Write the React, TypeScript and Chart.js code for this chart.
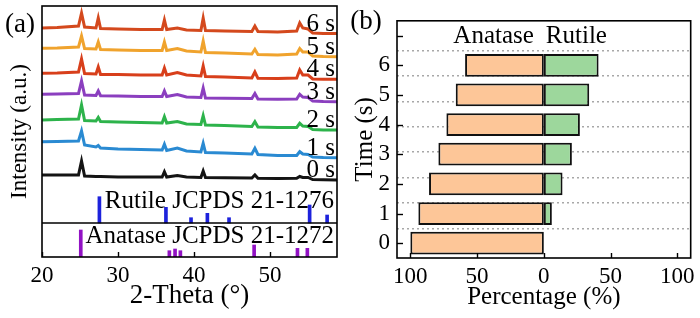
import React, { useEffect, useRef } from 'react';
import { Chart, registerables } from 'chart.js';
Chart.register(...registerables);

const SERIF = '"Liberation Serif", "Times New Roman", Times, serif';

// ---------------- Panel (a): XRD patterns ----------------
const twoTheta = [20, 22, 24.8, 25.2, 25.6, 27.1, 27.4, 27.7, 30, 33, 35.8, 36.1, 36.4, 37.8, 39, 40.9, 41.2, 41.5, 44, 47.6, 48.0, 48.4, 51, 53.5, 53.9, 54.3, 55.0, 55.6, 57, 58.8];
const xrdLabels = ['0 s', '1 s', '2 s', '3 s', '4 s', '5 s', '6 s'];
const xrd0s = [82, 82, 82, 96, 81, 80.5, 80.5, 80.5, 80, 80, 80, 85.3, 80, 81.5, 80, 79.5, 86, 79.5, 79.2, 79, 82, 78.7, 78.5, 78.7, 80.5, 79.5, 79.5, 77.5, 77.2, 77];
const xrd1s = [115.3, 115.5, 116, 126, 112, 110, 111.5, 109, 108, 107.5, 107, 112.7, 106.5, 109, 106, 105, 113.7, 104.5, 104, 103, 108.7, 102.5, 101.5, 101.5, 105.3, 103, 102.5, 100, 99.5, 99.3];
const xrd2s = [137, 137.5, 138, 152, 136.5, 136, 139.5, 135.5, 135, 134.5, 134, 140.3, 134, 135.5, 133, 132.5, 141.3, 132, 131.5, 130.5, 135.3, 130, 129.5, 129.5, 133.7, 131, 130.5, 127.5, 127, 127];
const xrd3s = [162.7, 163, 163.5, 176, 162, 161.5, 166, 161.3, 161, 160.5, 160.5, 166, 160.5, 162.5, 160, 159.5, 169, 159, 158.7, 158.5, 163.5, 158, 157.7, 158, 162.7, 160, 159.5, 156, 155.5, 155.3];
const xrd4s = [183.7, 184, 185, 198, 183.5, 183, 190, 182.5, 182.5, 182, 182, 189, 182, 184.5, 182, 181, 191, 180.5, 180, 179, 185, 178.7, 178.5, 179, 187, 182, 182, 178, 177.7, 177.7];
const xrd5s = [208.7, 209, 210, 221, 208.5, 208, 215, 207.5, 207, 206.5, 206.5, 215, 206.5, 208.5, 206, 205, 216, 204.5, 204, 203, 207.7, 202.5, 202, 203, 208.5, 205, 205, 201, 200.5, 200.3];
const xrd6s = [229, 229.5, 231, 244, 230, 229, 239, 228.5, 228, 227.5, 227.5, 237, 227.5, 229, 227, 226.5, 239, 226.5, 226, 225.5, 231, 225.5, 225, 226, 234, 229, 228, 224, 223.5, 223.5];
const xrdSeries = [xrd0s, xrd1s, xrd2s, xrd3s, xrd4s, xrd5s, xrd6s];
const xrdColors = ['#141414', '#2a8ad2', '#2db34b', '#8b3fbf', '#d83f1b', '#f0a32d', '#d4491d'];

const refDivider = 34;
const rutileRefPos = [27.55, 36.3, 39.6, 41.75, 44.6, 55.2, 57.5];
const rutileRefTop = [60.3, 49.7, 39.3, 43.7, 39.3, 52, 42];
const anataseRefPos = [25.1, 36.75, 37.5, 38.2, 47.9, 53.6, 54.9];
const anataseRefTop = [27, 6.3, 8, 6.3, 12, 8.7, 8.7];
const rutileRefLabel = 'Rutile JCPDS 21-1276';
const anataseRefLabel = 'Anatase JCPDS 21-1272';
const thetaMin = 20;
const thetaMax = 58.8;
const intensityMax = 251;

// ---------------- Panel (b): phase percentage ----------------
const timeS = [0, 1, 2, 3, 4, 5, 6];
const anatasePct = [100, 94, 86, 79, 73, 66, 59];
const rutilePct = [0, 6, 14, 21, 27, 34, 41];
const timeTicks = [0, 1, 2, 3, 4, 5, 6, 7];
const halfGrid = [0.5, 1.5, 2.5, 3.5, 4.5, 5.5, 6.5];

function frameAndTicks(chart: any, drawY: boolean) {
  const { ctx, chartArea: a, scales } = chart;
  ctx.save();
  ctx.strokeStyle = '#000';
  ctx.lineWidth = 1.6;
  ctx.strokeRect(a.left, a.top, a.right - a.left, a.bottom - a.top);
  ctx.lineWidth = 1.4;
  scales.x.ticks.forEach((t: any) => {
    const px = Math.round(scales.x.getPixelForValue(t.value)) + 0.5;
    ctx.beginPath();
    ctx.moveTo(px, a.bottom);
    ctx.lineTo(px, a.bottom - 5);
    ctx.stroke();
  });
  if (drawY) {
    scales.y.ticks.forEach((t: any) => {
      const py = Math.round(scales.y.getPixelForValue(t.value)) + 0.5;
      ctx.beginPath();
      ctx.moveTo(a.left, py);
      ctx.lineTo(a.left + 6, py);
      ctx.stroke();
    });
  }
  ctx.restore();
}

const panelAPlugin = {
  id: 'panelA',
  afterDatasetsDraw(chart: any) {
    const { ctx, chartArea: a, scales: { y } } = chart;
    frameAndTicks(chart, false);
    ctx.save();
    ctx.fillStyle = '#000';
    ctx.textAlign = 'right';
    ctx.textBaseline = 'alphabetic';
    ctx.font = `25px ${SERIF}`;
    xrdSeries.forEach((s, i) => {
      ctx.fillText(xrdLabels[i], a.right - 2, y.getPixelForValue(s[s.length - 1] + 3));
    });
    ctx.fillText(rutileRefLabel, a.right - 3, y.getPixelForValue(refDivider + 15));
    ctx.fillText(anataseRefLabel, a.right - 3, y.getPixelForValue(14));
    ctx.textAlign = 'center';
    ctx.textBaseline = 'middle';
    ctx.font = `27px ${SERIF}`;
    ctx.fillText('(a)', 20, 25);
    ctx.restore();
  },
};

const panelBPlugin = {
  id: 'panelB',
  afterDatasetsDraw(chart: any) {
    const { ctx, scales: { x, y } } = chart;
    frameAndTicks(chart, true);
    ctx.save();
    ctx.fillStyle = '#000';
    ctx.textBaseline = 'middle';
    ctx.font = `25px ${SERIF}`;
    const zero = x.getPixelForValue(0);
    const yy = y.getPixelForValue(7) + 1;
    ctx.textAlign = 'right';
    ctx.fillText('Anatase', zero - 10, yy);
    ctx.textAlign = 'left';
    ctx.fillText('Rutile', zero + 2, yy);
    ctx.textAlign = 'center';
    ctx.font = `27px ${SERIF}`;
    ctx.fillText('(b)', 16, 22);
    ctx.restore();
  },
};

function makeA(canvas: HTMLCanvasElement) {
  const sets: any[] = xrdSeries.map((s, i) => ({
    type: 'line',
    label: xrdLabels[i],
    data: s.map((v, k) => ({ x: twoTheta[k], y: v })),
    borderColor: xrdColors[i],
    borderWidth: 3,
    pointRadius: 0,
    tension: 0,
  }));
  sets.push({
    type: 'line',
    label: 'divider',
    data: [{ x: thetaMin, y: refDivider }, { x: thetaMax, y: refDivider }],
    borderColor: '#000',
    borderWidth: 1.5,
    pointRadius: 0,
  });
  sets.push({
    type: 'bar',
    label: rutileRefLabel,
    data: rutileRefPos.map((p, k) => ({ x: p, y: [refDivider, rutileRefTop[k]] })),
    backgroundColor: '#1d22dc',
    barThickness: 3,
    grouped: false,
  });
  sets.push({
    type: 'bar',
    label: anataseRefLabel,
    data: anataseRefPos.map((p, k) => ({ x: p, y: [0, anataseRefTop[k]] })),
    backgroundColor: '#9212c4',
    barThickness: 3,
    grouped: false,
  });
  return new Chart(canvas, {
    type: 'line',
    data: { datasets: sets },
    options: {
      responsive: false,
      animation: false,
      devicePixelRatio: 1,
      layout: { padding: { left: 0, top: 6, right: 13, bottom: 0 } },
      plugins: { legend: { display: false }, tooltip: { enabled: false } },
      scales: {
        x: {
          type: 'linear',
          min: thetaMin,
          max: thetaMax,
          offset: false,
          grid: { display: false, drawTicks: false },
          border: { display: false },
          ticks: { stepSize: 10, includeBounds: false, color: '#000', padding: 5, font: { family: SERIF, size: 23 } },
          title: { display: true, text: '2-Theta (°)', color: '#000', font: { family: SERIF, size: 27 }, padding: { top: 0, bottom: 6 } },
          afterFit: (s: any) => { s.height = 61; },
        },
        y: {
          type: 'linear',
          min: 0,
          max: intensityMax,
          grid: { display: false, drawTicks: false },
          border: { display: false },
          ticks: { display: false },
          title: { display: true, text: 'Intensity (a.u.)', color: '#000', font: { family: SERIF, size: 23 }, padding: { top: 6, bottom: 0 } },
          afterFit: (s: any) => { s.width = 42; },
        },
      },
    },
    plugins: [panelAPlugin],
  } as any);
}

function makeB(canvas: HTMLCanvasElement) {
  const barStyle = {
    borderColor: '#111',
    borderWidth: 2,
    borderSkipped: false,
    grouped: false,
    categoryPercentage: 0.8,
    barPercentage: 0.96,
  };
  return new Chart(canvas, {
    type: 'bar',
    data: {
      datasets: [
        { label: 'Anatase', data: timeS.map((t, k) => ({ y: t, x: -anatasePct[k] })), backgroundColor: '#fdc698', ...barStyle },
        { label: 'Rutile', data: timeS.map((t, k) => ({ y: t, x: rutilePct[k] })), backgroundColor: '#9dd79c', ...barStyle },
      ],
    },
    options: {
      indexAxis: 'y',
      responsive: false,
      animation: false,
      devicePixelRatio: 1,
      layout: { padding: { left: 0, top: 8, right: 9, bottom: 0 } },
      plugins: { legend: { display: false }, tooltip: { enabled: false } },
      scales: {
        x: {
          type: 'linear',
          min: -110,
          max: 110,
          grid: { display: false, drawTicks: false },
          border: { display: false },
          ticks: { stepSize: 50, includeBounds: false, color: '#000', padding: 5, font: { family: SERIF, size: 23 }, callback: (v: any) => String(Math.abs(v)) },
          title: { display: true, text: 'Percentage (%)', color: '#000', font: { family: SERIF, size: 25 }, padding: { top: 0, bottom: 6 } },
          afterFit: (s: any) => { s.height = 60; },
        },
        y: {
          type: 'linear',
          position: 'left',
          min: -0.5,
          max: 7.5,
          offset: false,
          grid: { display: false, drawTicks: false },
          border: { display: false },
          afterBuildTicks: (s: any) => { s.ticks = timeTicks.map((v) => ({ value: v })); },
          ticks: { color: '#000', padding: 7, font: { family: SERIF, size: 23 }, callback: (v: any) => (v === 7 ? '' : String(v)) },
          title: { display: true, text: 'Time (s)', color: '#000', font: { family: SERIF, size: 25 }, padding: { top: 0, bottom: 0 } },
          afterFit: (s: any) => { s.width = 47; },
        },
        yg: {
          type: 'linear',
          position: 'left',
          min: -0.5,
          max: 7.5,
          grid: { display: true, drawTicks: false, color: '#a8a8a8', lineWidth: 1.5 },
          border: { display: false, dash: [2, 3] },
          ticks: { display: false },
          afterBuildTicks: (s: any) => { s.ticks = halfGrid.map((v) => ({ value: v })); },
          afterFit: (s: any) => { s.width = 0; },
        },
      },
    },
    plugins: [panelBPlugin],
  } as any);
}

export default function App() {
  const refA = useRef<HTMLCanvasElement>(null);
  const refB = useRef<HTMLCanvasElement>(null);
  useEffect(() => {
    const a = makeA(refA.current!);
    const b = makeB(refB.current!);
    return () => { a.destroy(); b.destroy(); };
  }, []);
  return (
    <div style={{ position: 'fixed', left: 0, top: 0, width: 700, height: 318, background: '#fff' }}>
      <canvas ref={refA} width={350} height={318} style={{ position: 'absolute', left: 0, top: 0 }} />
      <canvas ref={refB} width={350} height={318} style={{ position: 'absolute', left: 350, top: 0 }} />
    </div>
  );
}
